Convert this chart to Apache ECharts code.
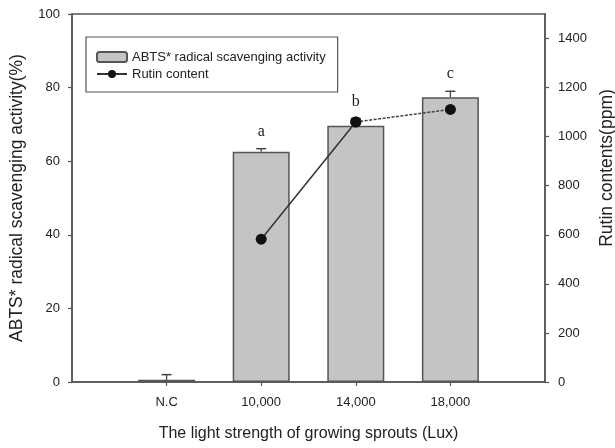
<!DOCTYPE html>
<html>
<head>
<meta charset="utf-8">
<script src="https://cdn.jsdelivr.net/npm/echarts@6/dist/echarts.min.js"></script>
<style>html,body{margin:0;padding:0;background:#fff;}#c{width:615px;height:448px;}</style>
</head>
<body>
<div id="c"></div>
<script>
const categories = ['N.C', '10,000', '14,000', '18,000'];
const abts = [0.6, 62.6, 69.6, 77.4];
const abtsErr = [1.4, 0.8, 2.0, 1.6];
const rutin = [null, 582, 1060, 1111];
const letters = ['', 'a', 'b', 'c'];
const leftTicks = [0, 20, 40, 60, 80, 100];
const rightTicks = [0, 200, 400, 600, 800, 1000, 1200, 1400];
const catPos = categories.map((c, i) => i + 1);

const FONT = 'Liberation Sans, Arial, sans-serif';
const AX = '#555';

const chart = echarts.init(document.getElementById('c'), null, {renderer: 'canvas'});
chart.setOption({
  animation: false,
  backgroundColor: '#fff',
  grid: {left: 72, right: 70, top: 14, bottom: 66, show: true, borderColor: AX, borderWidth: 1.5,
    backgroundColor: 'transparent', containLabel: false, outerBoundsMode: 'none'},
  legend: {
    orient: 'vertical', left: 86, top: 37,
    data: ['ABTS* radical scavenging activity', 'Rutin content'],
    borderColor: AX, borderWidth: 1.2, padding: [13, 12, 11, 10],
    itemWidth: 30, itemHeight: 10, itemGap: 3,
    textStyle: {fontFamily: FONT, fontSize: 13, lineHeight: 14, color: '#222'}
  },
  xAxis: {
    type: 'value', min: 0, max: 5, interval: 1,
    name: 'The light strength of growing sprouts (Lux)', nameLocation: 'middle', nameGap: 44,
    nameTextStyle: {fontFamily: FONT, fontSize: 16, color: '#222'},
    axisLine: {show: true, lineStyle: {color: AX, width: 1.5}},
    axisTick: {show: true, inside: false, length: 4, lineStyle: {color: AX, width: 1.2}, customValues: catPos},
    axisLabel: {margin: 14, fontFamily: FONT, fontSize: 13, color: '#222', customValues: catPos,
      formatter: v => categories[Math.round(v) - 1] || ''},
    splitLine: {show: false}
  },
  yAxis: [{
    type: 'value', min: 0, max: 100, interval: 20, position: 'left',
    name: 'ABTS* radical scavenging activity(%)', nameLocation: 'middle', nameGap: 46, nameRotate: 90,
    nameTextStyle: {fontFamily: FONT, fontSize: 17.5, color: '#222'},
    axisLine: {show: true, lineStyle: {color: AX, width: 1.5}},
    axisTick: {show: true, length: 4, lineStyle: {color: AX, width: 1.2}, customValues: leftTicks},
    axisLabel: {margin: 12, fontFamily: FONT, fontSize: 13, color: '#222', customValues: leftTicks},
    splitLine: {show: false}
  }, {
    type: 'value', min: 0, max: 1500, position: 'right',
    name: 'Rutin contents(ppm)', nameLocation: 'middle', nameGap: 53, nameRotate: 90,
    nameTextStyle: {fontFamily: FONT, fontSize: 17.5, color: '#222', padding: [0, 0, 0, 60]},
    axisLine: {show: true, lineStyle: {color: AX, width: 1.5}},
    axisTick: {show: true, length: 4, lineStyle: {color: AX, width: 1.2}, customValues: rightTicks},
    axisLabel: {margin: 13, fontFamily: FONT, fontSize: 13, color: '#222', customValues: rightTicks,
      formatter: v => String(v)},
    splitLine: {show: false}
  }],
  series: [{
    name: 'ABTS* radical scavenging activity',
    type: 'bar', yAxisIndex: 0, barWidth: 57,
    data: abts.map((v, i) => [catPos[i], v]),
    itemStyle: {color: '#c4c4c4', borderColor: AX, borderWidth: 1.5}
  }, {
    name: 'err', type: 'custom', yAxisIndex: 0, z: 3,
    data: abts.map((v, i) => [catPos[i], v, v + abtsErr[i], letters[i]]),
    renderItem: function (params, api) {
      const x = api.value(0);
      const p0 = api.coord([x, api.value(1)]);
      const p1 = api.coord([x, api.value(2)]);
      const letter = letters[params.dataIndex];
      const children = [
        {type: 'line', shape: {x1: p0[0], y1: p0[1], x2: p1[0], y2: p1[1]}, style: {stroke: '#444', lineWidth: 1.3}},
        {type: 'line', shape: {x1: p1[0] - 5, y1: p1[1], x2: p1[0] + 5, y2: p1[1]}, style: {stroke: '#444', lineWidth: 1.5}}
      ];
      if (letter) {
        children.push({type: 'text', x: p1[0], y: p1[1] - 17,
          style: {text: letter, fill: '#222', font: '16px "Liberation Serif", "Times New Roman", serif', align: 'center', verticalAlign: 'middle'}});
      }
      return {type: 'group', children: children};
    }
  }, {
    name: 'Rutin content', type: 'line', yAxisIndex: 1, z: 5,
    data: rutin.map((v, i) => [catPos[i], v]).filter((d, i) => d[1] != null && i <= 2),
    symbol: 'circle', symbolSize: 11,
    itemStyle: {color: '#111'},
    lineStyle: {color: '#333', width: 1.5}
  }, {
    name: 'Rutin content (cont.)', type: 'line', yAxisIndex: 1, z: 5,
    data: rutin.map((v, i) => [catPos[i], v]).filter((d, i) => d[1] != null && i >= 2),
    symbol: 'circle', symbolSize: 11,
    itemStyle: {color: '#111'},
    lineStyle: {color: '#444', width: 1.5, type: [3, 1.5]}
  }]
});
</script>
</body>
</html>
